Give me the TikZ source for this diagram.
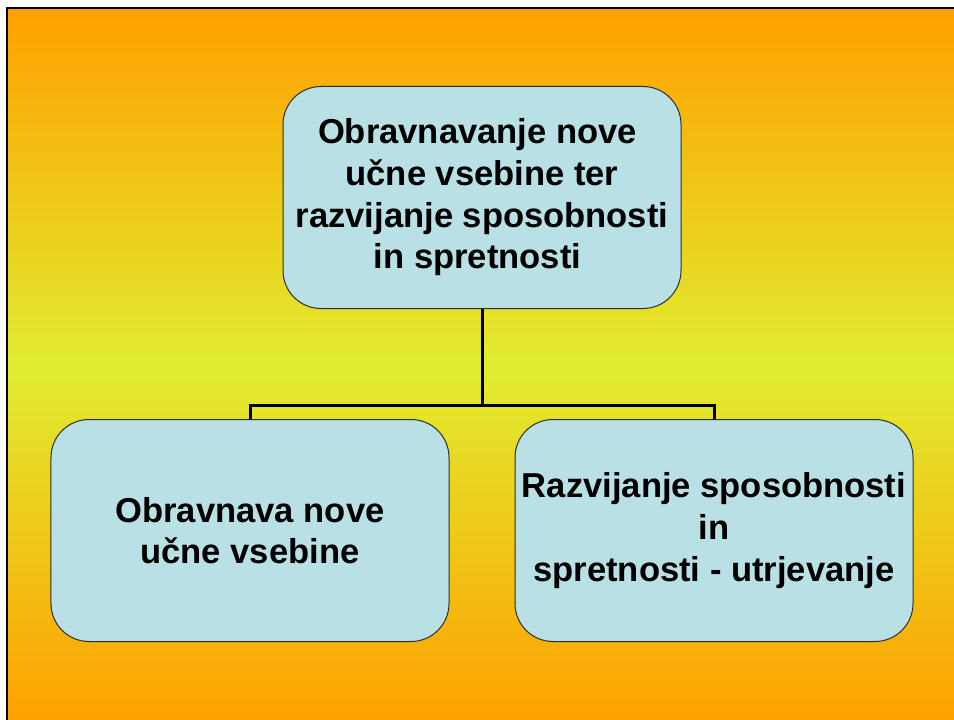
\documentclass[tikz,border=0pt]{standalone}
\usepackage{fontspec}
\setmainfont{Liberation Sans}
\definecolor{bgorange}{RGB}{255,160,0}
\definecolor{bgmid}{RGB}{224,237,48}
\definecolor{boxfill}{RGB}{185,224,228}
\definecolor{boxline}{RGB}{45,45,45}
\newcommand{\trailsp}{\hspace*{9bp}}
\tikzset{
  card/.style={draw=boxline, line width=1bp, fill=boxfill, rounded corners=38bp,
    minimum width=398bp, minimum height=222bp, inner sep=0pt, align=center,
    font=\fontsize{34.7}{41.8}\selectfont\bfseries},
  link/.style={draw=black, line width=3bp}
}
\begin{document}
\begin{tikzpicture}[x=1bp,y=-1bp]
  \useasboundingbox (0,0) rectangle (954,720);
  \fill[white] (-2,-2) rectangle (956,722);
  \shade[top color=bgorange, bottom color=bgmid] (7,8) rectangle (956,368);
  \shade[top color=bgmid, bottom color=bgorange] (7,367.5) rectangle (956,722);
  \draw[black, line width=2.2bp] (956,8) -- (7,8) -- (7,722);
  \node[card] (top) at (482,197.5) {Obravnavanje nove\trailsp\\ učne vsebine ter\trailsp\\ razvijanje sposobnosti\trailsp\\ in spretnosti\trailsp};
  \node[card] (left) at (250,530.5) {Obravnava nove\\ učne vsebine};
  \node[card] (right) at (714,530.5) {Razvijanje sposobnosti\\ in\\ spretnosti - utrjevanje};
  \coordinate (j) at (482,405);
  \draw[link] (top.south) -- (j);
  \draw[link] (left.north) |- (j) -| (right.north);
\end{tikzpicture}
\end{document}
